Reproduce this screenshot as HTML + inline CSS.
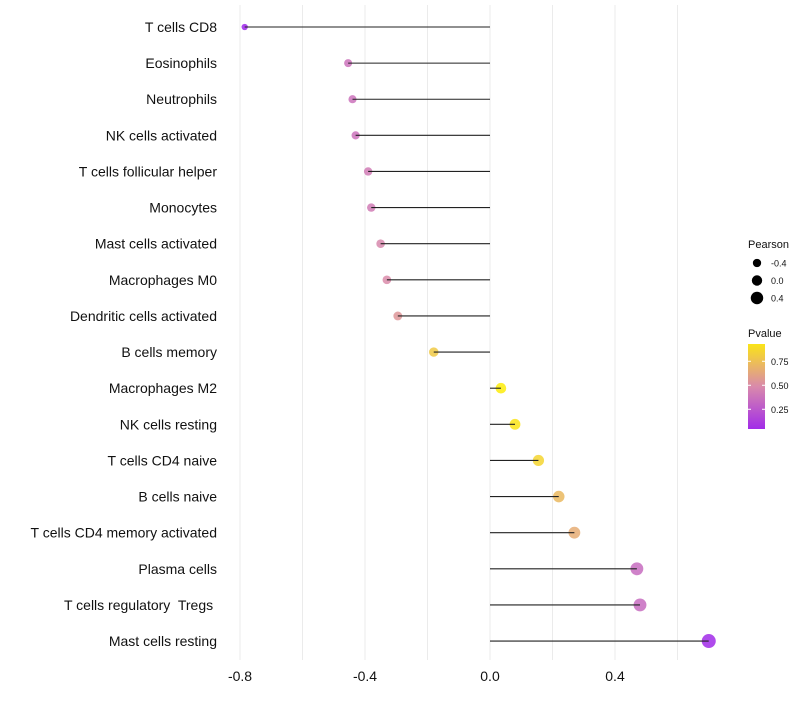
<!DOCTYPE html>
<html><head><meta charset="utf-8"><style>
body{margin:0;background:#fff;font-family:"Liberation Sans",sans-serif}
text{white-space:pre}
</style></head><body>
<svg id="c" width="800" height="700" xmlns="http://www.w3.org/2000/svg"></svg>
<script>
const categories=["T cells CD8","Eosinophils","Neutrophils","NK cells activated","T cells follicular helper","Monocytes","Mast cells activated","Macrophages M0","Dendritic cells activated","B cells memory","Macrophages M2","NK cells resting","T cells CD4 naive","B cells naive","T cells CD4 memory activated","Plasma cells","T cells regulatory  Tregs ","Mast cells resting"];
const pearson=[-0.785,-0.454,-0.44,-0.43,-0.39,-0.38,-0.35,-0.33,-0.295,-0.18,0.035,0.08,0.155,0.22,0.27,0.47,0.48,0.70];
const pvalue=[0.03,0.38,0.38,0.38,0.42,0.42,0.48,0.5,0.55,0.8,0.97,0.93,0.86,0.72,0.66,0.35,0.35,0.05];
const xTicks=[-0.8,-0.4,0.0,0.4];
const xTickLabels=["-0.8","-0.4","0.0","0.4"];
const sizeLegendVals=[-0.4,0.0,0.4];
const pLegendTicks=[0.25,0.5,0.75];

const svg=document.getElementById('c');const NS="http://www.w3.org/2000/svg";
function el(t,a,p){const e=document.createElementNS(NS,t);for(const k in a)e.setAttribute(k,a[k]);(p||svg).appendChild(e);return e;}
const x=v=>490+v*312.5;
const y=i=>27+i*36.12;
const r=v=>Math.max(2,5.2+2.6*v);
function lerp(a,b,t){return a.map((c,i)=>Math.round(c+(b[i]-c)*t));}
function col(p){const s=[[155,32,240],[218,140,170],[255,242,0]];let c=p<0.5?lerp(s[0],s[1],p/0.5):lerp(s[1],s[2],(p-0.5)/0.5);return `rgb(${c[0]},${c[1]},${c[2]})`;}
[-0.8,-0.6,-0.4,-0.2,0,0.2,0.4,0.6].forEach(v=>{
 const g=el('line',{x1:x(v),x2:x(v),y1:5,y2:660,stroke:'#ebebeb','stroke-width':1});
 
 
});
xTicks.forEach((v,i)=>{
 const t=el('text',{x:x(v),y:681,'text-anchor':'middle','font-size':14,fill:'#111'});t.textContent=xTickLabels[i];
 
 
});
categories.forEach((c,i)=>{
 const t=el('text',{x:217,y:y(i)+5,'text-anchor':'end','font-size':14,fill:'#111'});t.textContent=c;
 
 
 const d=el('circle',{cx:x(pearson[i]),cy:y(i),r:r(pearson[i]),fill:col(pvalue[i]),'fill-opacity':0.85});
 
 
 const l=el('line',{x1:x(0),x2:x(pearson[i]),y1:y(i),y2:y(i),stroke:'#222','stroke-width':1.1});
 
 
});
const st=el('text',{x:748,y:248,'font-size':11,fill:'#111'});st.textContent='Pearson';


sizeLegendVals.forEach((v,i)=>{
 const cy=263+i*17.5;
 const c=el('circle',{cx:757,cy:cy,r:r(v),fill:'#000'});
 
 
 const t=el('text',{x:771,y:cy+3.5,'font-size':9,fill:'#111'});t.textContent=v.toFixed(1);
 
 
});
const pt=el('text',{x:748,y:337,'font-size':11,fill:'#111'});pt.textContent='Pvalue';


const defs=el('defs',{});const lg=el('linearGradient',{id:'g',x1:0,y1:1,x2:0,y2:0},defs);
[0,0.25,0.5,0.75,1].forEach(s=>el('stop',{offset:s,'stop-color':col(0.055+s*0.875)},lg));
const bar=el('rect',{x:748,y:344,width:17,height:85,fill:'url(#g)'});


pLegendTicks.forEach(v=>{
 const yy=428-(v-0.055)/0.875*84;
 el('line',{x1:748,x2:751,y1:yy,y2:yy,stroke:'#fff','stroke-width':1});
 el('line',{x1:762,x2:765,y1:yy,y2:yy,stroke:'#fff','stroke-width':1});
 const t=el('text',{x:771,y:yy+3.5,'font-size':9,fill:'#111'});t.textContent=v.toFixed(2);
 
 
});
</script>
</body></html>
